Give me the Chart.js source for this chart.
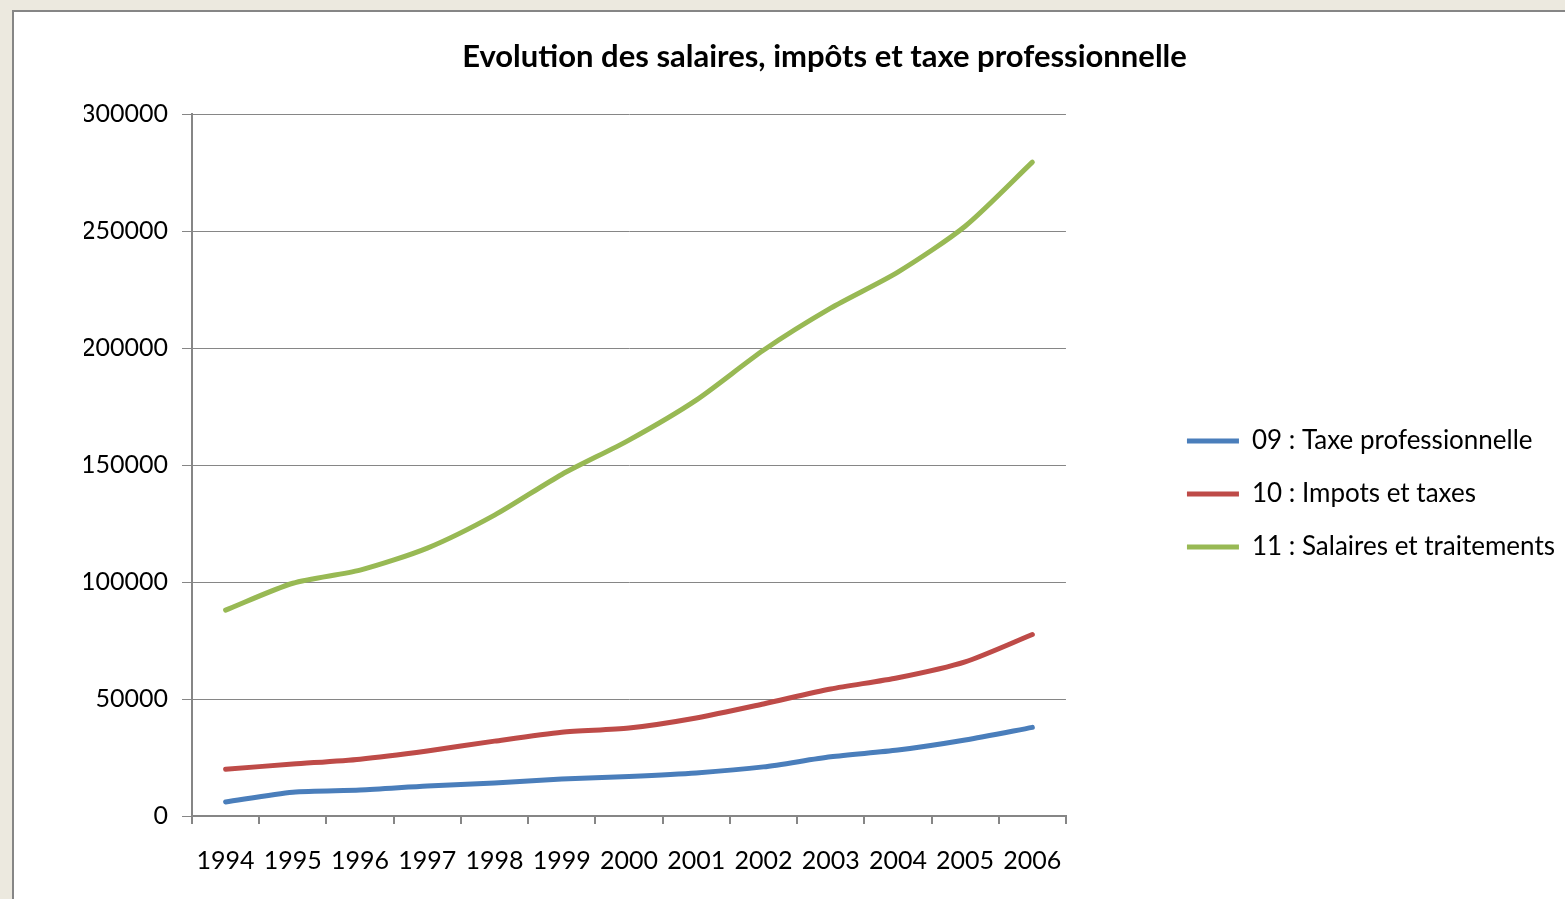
<!DOCTYPE html>
<html>
<head>
<meta charset="utf-8">
<script src="https://cdn.jsdelivr.net/npm/chart.js@4.4.0/dist/chart.umd.min.js"></script>
<style>
  html, body { margin: 0; padding: 0; background: #ece9df; overflow: hidden; }
  #box {
    position: absolute; left: 12px; top: 10px;
    width: 1560px; height: 900px;
    background: #fff; border-left: 2px solid #868686; border-top: 2px solid #868686;
  }
  #chart { display: block; }
</style>
</head>
<body>
<div id="box"><canvas id="chart" width="1551" height="887"></canvas></div>
<script>
// years on the x axis
const years = ['1994', '1995', '1996', '1997', '1998', '1999', '2000', '2001', '2002', '2003', '2004', '2005', '2006'];

// values
const taxePro = [6000, 10200, 11100, 12800, 14100, 15800, 16900, 18400, 21000, 25300, 28200, 32500, 37900];
const impots = [20000, 22200, 24300, 27800, 32000, 35800, 37600, 41900, 47900, 54300, 59100, 65900, 77600];
const salaires = [88000, 99500, 105100, 114500, 128600, 146000, 160700, 177800, 199100, 217100, 232500, 252100, 279500];

const seriesNames = ['09 : Taxe professionnelle', '10 : Impots et taxes', '11 : Salaires et traitements'];
const colors = ['#4a7ebb', '#be4b48', '#98b954'];

const font = 'Lato, "Open Sans", sans-serif';
const gray = '#868686';

const makeSet = (label, data, color) => ({
  label: label,
  data: data,
  borderColor: color,
  backgroundColor: color,
  borderWidth: 5,
  pointRadius: 0,
  tension: 0.25,
  borderCapStyle: 'round'
});

new Chart(document.getElementById('chart'), {
  type: 'line',
  data: {
    labels: years,
    datasets: [
      makeSet(seriesNames[0], taxePro, colors[0]),
      makeSet(seriesNames[1], impots, colors[1]),
      makeSet(seriesNames[2], salaires, colors[2])
    ]
  },
  options: {
    responsive: false,
    animation: false,
    // left padding moves the title centre right like in the original
    layout: { padding: { top: 0, right: 0, left: 70, bottom: 0 } },
    plugins: {
      tooltip: { enabled: false },
      title: {
        display: true,
        text: 'Evolution des salaires, impôts et taxe professionnelle',
        color: '#000',
        font: { family: font, size: 31, weight: 'bold' },
        padding: { top: 26, bottom: 39 }
      },
      legend: {
        position: 'right',
        maxWidth: 600,
        // empty title only pushes the entries down
        title: { display: true, text: '', font: { size: 10 }, padding: { top: 65, bottom: 0 } },
        labels: {
          color: '#000',
          font: { family: font, size: 26 },
          boxWidth: 52,
          boxHeight: 5,
          padding: 27,
          generateLabels: (chart) => chart.data.datasets.map((ds, i) => ({
            text: ds.label,
            fillStyle: ds.borderColor,
            strokeStyle: ds.borderColor,
            fontColor: '#000',
            lineWidth: 0,
            datasetIndex: i,
            hidden: false
          }))
        }
      }
    },
    scales: {
      x: {
        offset: true,
        grid: { display: true, drawOnChartArea: false, offset: true, color: gray, lineWidth: 2, tickLength: 8 },
        border: { color: gray, width: 2 },
        ticks: { color: '#000', font: { family: font, size: 25 }, padding: 22, maxRotation: 0 },
        afterFit: (s) => { s.height = 83; }
      },
      y: {
        min: 0,
        max: 300000,
        grid: { color: gray, lineWidth: 1, tickLength: 10 },
        border: { color: gray, width: 2 },
        ticks: { stepSize: 50000, color: '#000', font: { family: font, size: 25 }, padding: 14,
          callback: (v) => String(v) },
        afterFit: (s) => { s.width = 108; }
      },
      gap: {
        position: 'right',
        grid: { display: false },
        border: { display: false },
        ticks: { display: false },
        afterFit: (s) => { s.width = 94; }
      }
    }
  }
});
</script>
</body>
</html>
